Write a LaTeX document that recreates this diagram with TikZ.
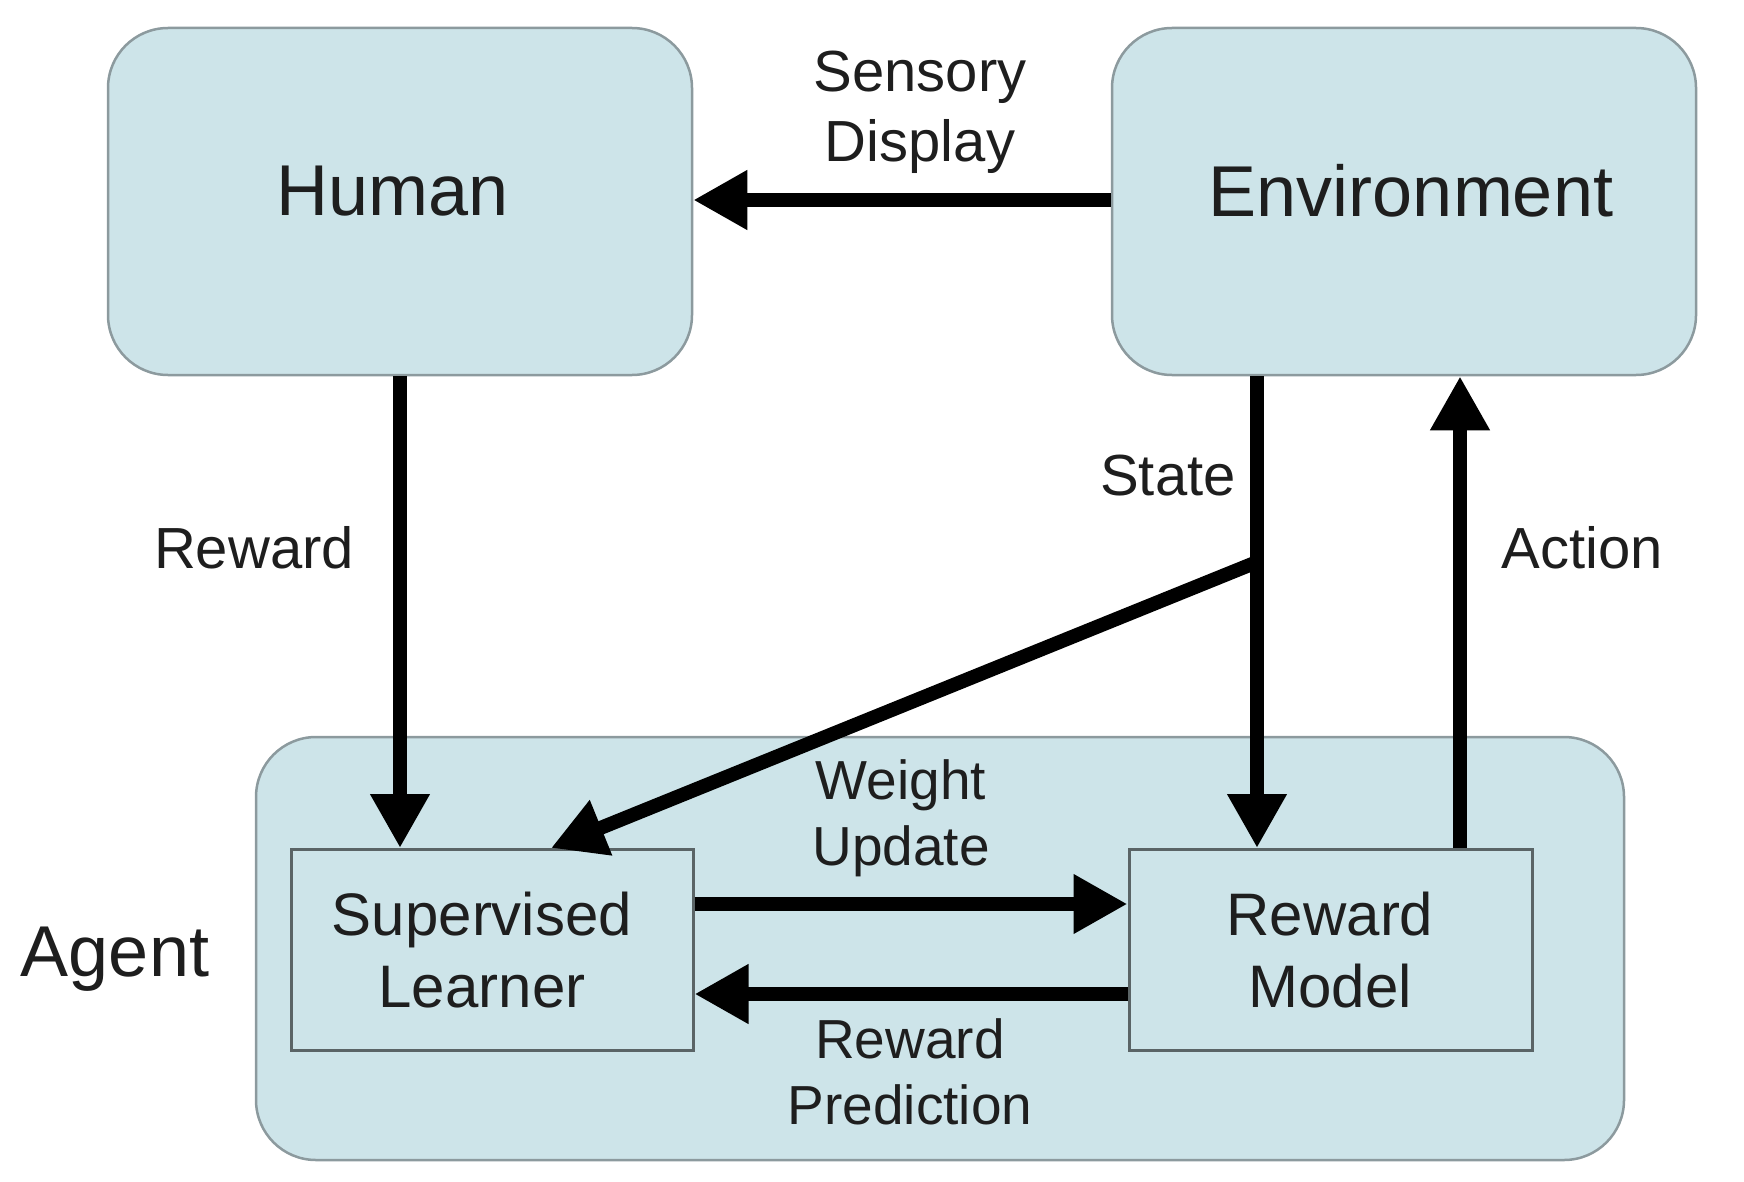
\documentclass[tikz,border=0pt]{standalone}
\usepackage{fontspec}
\setmainfont{Liberation Sans}
\usetikzlibrary{arrows.meta,calc}
\definecolor{boxfill}{HTML}{CDE4E9}
\definecolor{outerline}{HTML}{8C9A9E}
\definecolor{innerline}{HTML}{5A6466}
\definecolor{txt}{HTML}{1E1E1E}
\begin{document}
\begin{tikzpicture}[x=1pt,y=-1pt,
  outerbox/.style={draw=outerline,line width=2.5pt,fill=boxfill,rounded corners=60pt,inner sep=0pt},
  innerbox/.style={draw=innerline,line width=3pt,fill=boxfill,inner sep=0pt},
  bigtxt/.style={text=txt,inner sep=0pt,font=\fontsize{72}{80}\selectfont},
  boxtxt/.style={text=txt,align=center,inner sep=0pt,font=\fontsize{60}{72}\selectfont},
  lbl/.style={text=txt,align=center,inner sep=0pt,font=\fontsize{58}{70}\selectfont},
  arr/.style={line width=14pt,-{Triangle[length=54pt,width=56pt]}}
]
\useasboundingbox (0,0) rectangle (1744,1182);
\node[outerbox,minimum width=584pt,minimum height=347pt] (human) at (400,201.5) {};
\node[outerbox,minimum width=584pt,minimum height=347pt] (env) at (1404,201.5) {};
\node[outerbox,minimum width=1368pt,minimum height=423pt] (agent) at (940,948.5) {};
\node[innerbox,minimum width=402pt,minimum height=201pt] (sl) at (492,950) {};
\node[innerbox,minimum width=403pt,minimum height=201pt] (rm) at (1330.5,950) {};

\node[bigtxt] (humantxt) at (393,191) {Human};
\node[bigtxt] (envtxt) at (1411,191) {Environment};
\node[bigtxt] (agentlbl) at (115,959) {Agent};
\node[boxtxt] (sltxt) at (482,950) {Supervised\\Learner};
\node[boxtxt] (rmtxt) at (1330,950) {Reward\\Model};

\coordinate (sx) at (1257,0);
\coordinate (ax) at (1460,0);
\coordinate (dx) at (551,0);
\coordinate (br) at (1257,562);
\coordinate (wy) at (0,904);
\coordinate (py) at (0,994);
\coordinate (sy) at (0,200);

\draw[arr] (env.west |- sy) -- (human.east |- sy);
\draw[arr] (human.south) -- (sl.north -| human.south);
\draw[arr] (env.south -| sx) -- (rm.north -| sx);
\draw[arr] (br) -- (sl.north -| dx);
\draw[arr] (rm.north -| ax) -- (env.south -| ax);
\draw[arr] (sl.east |- wy) -- (rm.west |- wy);
\draw[arr] (rm.west |- py) -- (sl.east |- py);

\node[lbl] (sd) at (920,112) {Sensory\\Display};
\node[lbl] (rw) at (254,548) {Reward};
\node[lbl] (st) at (1168,476) {State};
\node[lbl] (ac) at (1582,548) {Action};
\node[lbl,font=\fontsize{55}{66}\selectfont] (wu) at (901,818) {Weight\\Update};
\node[lbl,font=\fontsize{55}{66}\selectfont] (rp) at (910,1072) {Reward\\Prediction};
\end{tikzpicture}
\end{document}
